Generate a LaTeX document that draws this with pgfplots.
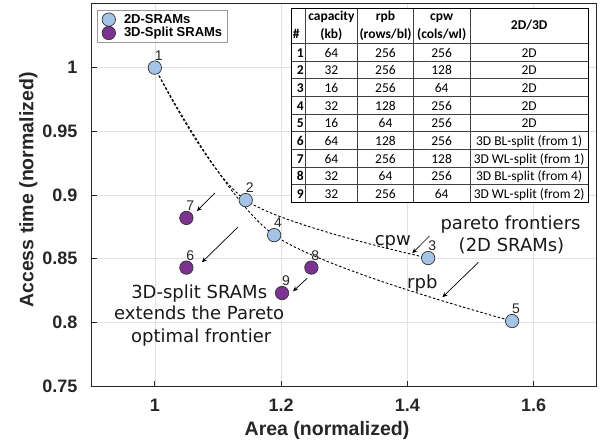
\documentclass[border=0pt]{standalone}
\usepackage{fontspec}
\setmainfont{Liberation Sans}
\newfontfamily\dejavu{DejaVu Sans}
\newfontfamily\carlito{Carlito}
\usepackage{pgfplots}
\pgfplotsset{compat=1.18}
\usetikzlibrary{arrows.meta}
\definecolor{lblue}{RGB}{163,196,230}
\definecolor{mpurple}{RGB}{123,50,145}
\definecolor{gridc}{RGB}{226,226,226}
\definecolor{axc}{RGB}{38,38,38}
\begin{document}
\begin{tikzpicture}
\begin{axis}[name=ax, scale only axis, width=505pt, height=382pt,
 xmin=0.9, xmax=1.7, ymin=0.75, ymax=1.05,
 xtick={1,1.2,1.4,1.6}, ytick={0.75,0.8,0.85,0.9,0.95,1},
 grid=major, major grid style={gridc, line width=0.6pt},
 tick align=inside, tick pos=left, major tick length=5pt,
 axis line style={axc, line width=1pt}, tick style={axc, line width=0.8pt},
 /pgf/number format/assume math mode=true,
 ticklabel style={font=\fontsize{18}{18}\selectfont\bfseries, text=axc},
 xticklabel style={anchor=base, yshift=-25.7pt},
 yticklabel style={xshift=-10.7pt},
 xlabel={Area (normalized)}, ylabel={Access time (normalized)},
 every axis x label/.style={at={(rel axis cs:0.466,0)}, anchor=base, yshift=-49pt, font=\fontsize{19.5}{20}\selectfont\bfseries, text=axc},
 every axis y label/.style={at={(rel axis cs:0,0.513)}, rotate=90, anchor=base, yshift=58.4pt, font=\fontsize{19.5}{20}\selectfont\bfseries, text=axc},
 legend style={at={(rel axis cs:0.0099,0.9843)}, anchor=north west, font=\fontsize{13}{13}\selectfont\bfseries, draw=gray!80, line width=0.8pt, inner xsep=5pt, inner ysep=2.5pt, row sep=0pt, column sep=8pt, nodes={inner sep=0.5pt}},
 legend cell align=left,
]
\addplot[only marks, mark=*, mark size=6.7pt, mark options={fill=lblue, draw=black!80, line width=0.7pt},
 nodes near coords, point meta=explicit symbolic,
 every node near coord/.append style={font=\fontsize{14}{14}\selectfont, anchor=base, inner sep=0pt, xshift=4pt, yshift=7.5pt, text=black!85}]
 table[meta=l]{
x y l
1.000 1.000 1
1.144 0.896 2
1.433 0.8505 3
1.189 0.8685 4
1.566 0.801 5
};
\addplot[only marks, mark=*, mark size=6.7pt, mark options={fill=mpurple, draw=black!80, line width=0.7pt},
 nodes near coords, point meta=explicit symbolic,
 every node near coord/.append style={font=\fontsize{14}{14}\selectfont, anchor=base, inner sep=0pt, xshift=4pt, yshift=7.5pt, text=black!85}]
 table[meta=l]{
x y l
1.05 0.843 6
1.05 0.882 7
1.248 0.843 8
1.2015 0.823 9
};
\legend{2D-SRAMs, 3D-Split SRAMs}
\addplot[smooth, no marks, black, line width=0.9pt, dash pattern=on 2.5pt off 2pt] coordinates {(1.000,1.000) (1.144,0.896) (1.433,0.8505)};
\addplot[smooth, no marks, black, line width=0.9pt, dash pattern=on 2.5pt off 2pt] coordinates {(1.000,1.000) (1.189,0.8685) (1.566,0.801)};
% arrows
\draw[-{Stealth[length=5pt,width=4.5pt]}, line width=0.7pt, black] (axis cs:1.0952,0.9016) -- (axis cs:1.0667,0.8874);
\draw[-{Stealth[length=5pt,width=4.5pt]}, line width=0.7pt, black] (axis cs:1.1317,0.8748) -- (axis cs:1.0746,0.8472);
\draw[-{Stealth[length=5pt,width=4.5pt]}, line width=0.7pt, black] (axis cs:1.2413,0.8346) -- (axis cs:1.2190,0.8244);
\draw[-{Stealth[length=5pt,width=4.5pt]}, line width=0.7pt, black] (axis cs:1.4349,0.8677) -- (axis cs:1.4079,0.8543);
\draw[-{Stealth[length=5pt,width=4.5pt]}, line width=0.7pt, black] (axis cs:1.5127,0.8472) -- (axis cs:1.4556,0.8197);
% texts
\tikzset{ann/.style={font=\dejavu\fontsize{18}{22}\selectfont, anchor=base, inner sep=0pt, text=black!90}}
\node[ann] at (axis cs:1.377,0.8601) {cpw};
\node[ann] at (axis cs:1.4238,0.8265) {rpb};
\node[ann] at (axis cs:1.5635,0.8732) {pareto frontiers};
\node[ann] at (axis cs:1.565,0.8555) {(2D SRAMs)};
\node[ann] at (axis cs:1.0703,0.8189) {3D-split SRAMs};
\node[ann] at (axis cs:1.0703,0.8020) {extends the Pareto};
\node[ann] at (axis cs:1.0735,0.7839) {optimal frontier};
\end{axis}
% table
\begin{scope}[shift={(ax.north west)}, xshift=200pt, yshift=-4.3pt,
  tf/.style={font=\carlito\fontsize{13.5}{16}\selectfont, anchor=base, inner sep=0pt},
  tb/.style={font=\carlito\bfseries\fontsize{13.5}{16}\selectfont, anchor=base, inner sep=0pt}]
\fill[white] (0,0) rectangle (296.6pt,-194.4pt);
\foreach \x in {13.3,66,121.6,178.3} \draw[black!75, line width=0.7pt] (\x pt,0) -- (\x pt,-194.4pt);
\foreach \k in {0,...,8} {\pgfmathsetmacro\yy{-35-17.68*\k}
  \draw[black!75, line width=0.7pt] (0,\yy pt) -- (296.6pt,\yy pt);}
\draw[black, line width=1.3pt] (0,0) rectangle (296.6pt,-194.4pt);
\node[tb, anchor=base west] at (1pt,-30.7pt) {\#};
\node[tb] at (39.65pt,-12.2pt) {capacity};
\node[tb] at (39.65pt,-30.7pt) {(kb)};
\node[tb] at (93.8pt,-12.2pt) {rpb};
\node[tb] at (93.8pt,-30.7pt) {(rows/bl)};
\node[tb] at (149.95pt,-12.2pt) {cpw};
\node[tb] at (149.95pt,-30.7pt) {(cols/wl)};
\node[tb] at (237.45pt,-21.5pt) {2D/3D};
\foreach \n/\a/\b/\c/\d in {1/64/256/256/{2D}, 2/32/256/128/{2D}, 3/16/256/64/{2D}, 4/32/128/256/{2D}, 5/16/64/256/{2D}, 6/64/128/256/{3D BL-split (from 1)}, 7/64/256/128/{3D WL-split (from 1)}, 8/32/64/256/{3D BL-split (from 4)}, 9/32/256/64/{3D WL-split (from 2)}} {
  \pgfmathsetmacro\yb{-35-17.68*(\n-1)-13.8}
  \node[tb, anchor=base east] at (12.3pt,\yb pt) {\n};
  \node[tf] at (39.65pt,\yb pt) {\a};
  \node[tf] at (93.8pt,\yb pt) {\b};
  \node[tf] at (149.95pt,\yb pt) {\c};
  \node[tf] at (237.45pt,\yb pt) {\d};
}
\end{scope}
\pgfresetboundingbox
\path ([shift={(-91.7pt,-59pt)}]ax.south west) rectangle ([shift={(3.3pt,4pt)}]ax.north east);
\end{tikzpicture}
\end{document}
